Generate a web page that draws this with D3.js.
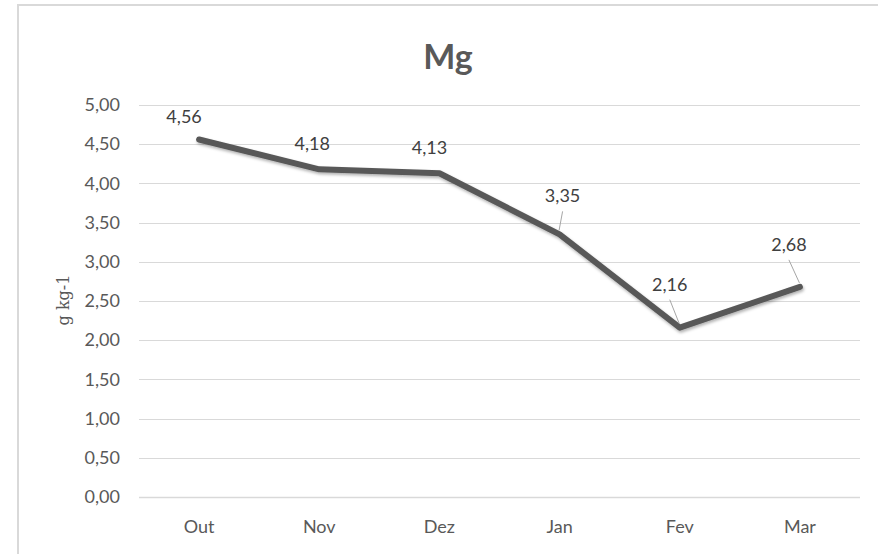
<!DOCTYPE html>
<html>
<head>
<meta charset="utf-8">
<script src="https://cdn.jsdelivr.net/npm/d3@7.9.0/dist/d3.min.js"></script>
<style>
  body { margin: 0; background: #fff; }
  svg { display: block; font-family: Lato, 'Open Sans', sans-serif; }
</style>
</head>
<body>
<svg id="chart" width="878" height="554"></svg>
<script>
const months = ['Out', 'Nov', 'Dez', 'Jan', 'Fev', 'Mar'];
const mgValues = [4.56, 4.18, 4.13, 3.35, 2.16, 2.68];
const yTicks = [0, 0.5, 1, 1.5, 2, 2.5, 3, 3.5, 4, 4.5, 5];

// label offsets from each point (dx, dy) and whether a leader line is drawn
const labelShift = [[-15, -17], [-7, -19], [-10, -19], [3, -32], [-10, -37], [-11, -36]];
const hasLeader = [false, false, false, true, true, true];

const svg = d3.select('#chart');
const margin = { top: 105, right: 18, bottom: 57, left: 139 };
const width = 878 - margin.left - margin.right;
const height = 554 - margin.top - margin.bottom;
const comma = (v) => d3.format('.2f')(v).replace('.', ',');

// chart frame (only left/top visible in the crop)
svg.append('path')
  .attr('d', 'M18,560 L18,5 L890,5')
  .attr('fill', 'none')
  .attr('stroke', '#d9d9d9')
  .attr('stroke-width', 2);

const defs = svg.append('defs');
defs.append('filter').attr('id', 'shadow')
  .attr('x', '-10%').attr('y', '-10%').attr('width', '120%').attr('height', '130%')
  .append('feDropShadow')
  .attr('dx', 1).attr('dy', 2).attr('stdDeviation', 1.5)
  .attr('flood-color', '#000').attr('flood-opacity', 0.3);

const g = svg.append('g').attr('transform', `translate(${margin.left},${margin.top})`);

const x = d3.scaleBand().domain(months).range([0, width]);
const y = d3.scaleLinear().domain([0, 5]).range([height, 0]);

// gridlines
g.append('g')
  .selectAll('line')
  .data(yTicks)
  .join('line')
  .attr('x1', 0)
  .attr('x2', width)
  .attr('y1', (d) => Math.round(y(d)) + 0.5)
  .attr('y2', (d) => Math.round(y(d)) + 0.5)
  .attr('stroke', '#d9d9d9')
  .attr('stroke-width', (d) => (d === 0 ? 1.6 : 1));

// y axis labels
const yAxis = g.append('g')
  .call(d3.axisLeft(y).tickValues(yTicks).tickFormat(comma).tickSize(0).tickPadding(19));
yAxis.select('.domain').remove();
yAxis.selectAll('text')
  .attr('fill', '#595959')
  .attr('font-size', 18)
  .attr('font-family', 'Lato, sans-serif');

// x axis labels
const xAxis = g.append('g')
  .attr('transform', `translate(0,${height})`)
  .call(d3.axisBottom(x).tickSize(0).tickPadding(23));
xAxis.select('.domain').remove();
xAxis.selectAll('text')
  .attr('fill', '#595959')
  .attr('font-size', 18)
  .attr('font-family', 'Lato, sans-serif');

// line
const line = d3.line()
  .x((d, i) => x(months[i]) + x.bandwidth() / 2)
  .y((d) => y(d));

g.append('path')
  .datum(mgValues)
  .attr('d', line)
  .attr('fill', 'none')
  .attr('stroke', '#595959')
  .attr('stroke-width', 6)
  .attr('stroke-linejoin', 'round')
  .attr('stroke-linecap', 'round')
  .attr('filter', 'url(#shadow)');

// data labels
const px = (i) => x(months[i]) + x.bandwidth() / 2;

g.append('g')
  .selectAll('line')
  .data(mgValues.filter((d, i) => hasLeader[i]).map((d) => mgValues.indexOf(d)))
  .join('line')
  .attr('x1', (i) => px(i) + labelShift[i][0])
  .attr('y1', (i) => y(mgValues[i]) + labelShift[i][1] + 9)
  .attr('x2', (i) => px(i) - 0.5)
  .attr('y2', (i) => y(mgValues[i]) - 4)
  .attr('stroke', '#a6a6a6')
  .attr('stroke-width', 1);

g.append('g')
  .selectAll('text')
  .data(mgValues)
  .join('text')
  .attr('x', (d, i) => px(i) + labelShift[i][0])
  .attr('y', (d, i) => y(d) + labelShift[i][1])
  .attr('text-anchor', 'middle')
  .attr('fill', '#404040')
  .attr('font-size', 18)
  .text((d) => comma(d));

// y axis title
svg.append('text')
  .attr('transform', 'translate(69,300) rotate(-90)')
  .attr('text-anchor', 'middle')
  .attr('fill', '#595959')
  .attr('font-size', 16)
  .attr('font-family', "'DejaVu Serif', 'Liberation Serif', serif")
  .text('g kg-1');

// title
svg.append('text')
  .attr('x', 448)
  .attr('y', 69)
  .attr('text-anchor', 'middle')
  .attr('fill', '#595959')
  .attr('font-size', 34)
  .attr('font-weight', 'bold')
  .text('Mg');
</script>
</body>
</html>
